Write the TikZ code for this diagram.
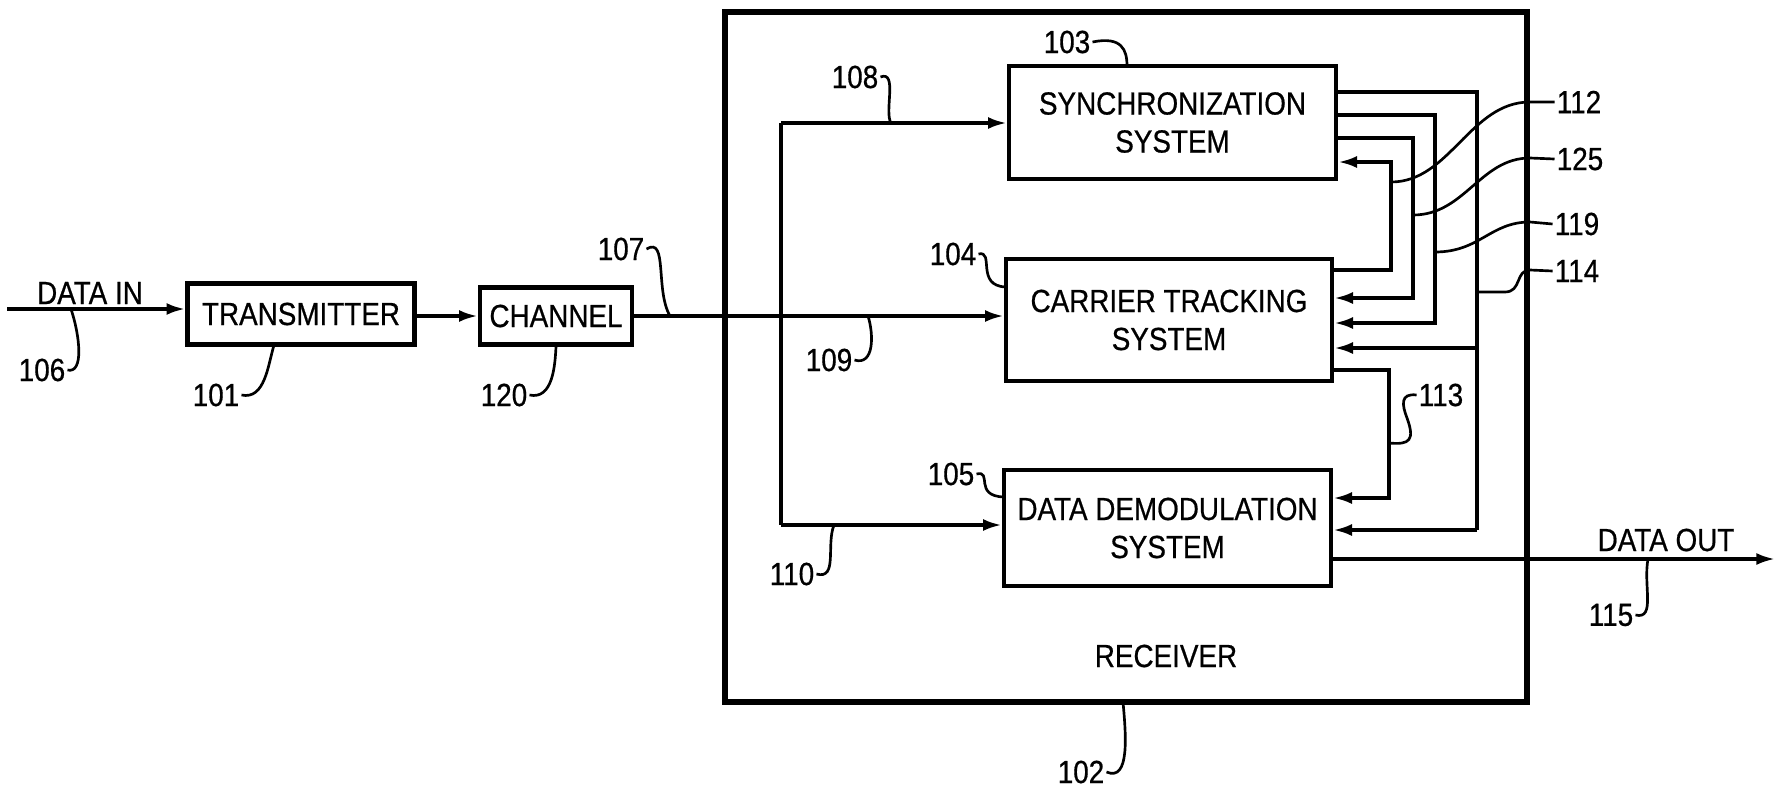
\documentclass[tikz,border=0pt]{standalone}
\usepackage{fontspec}
\setmainfont{Liberation Sans}[FakeStretch=0.87,FakeBold=0.6]
\usetikzlibrary{arrows.meta}
\newcommand{\figfont}{\fontsize{24}{28.5}\selectfont}

\begin{document}
\begin{tikzpicture}[x=0.75pt,y=0.75pt,yscale=-1,xscale=1,
  sysbox/.style={draw, line width=3.5pt, inner sep=0pt, align=center, font=\figfont},
  wire/.style={line width=2.5pt},
  arr/.style={wire, -{Latex[length=14pt,width=9pt]}},
  lead/.style={line width=2pt},
  txt/.style={inner sep=1.5pt, font=\figfont}]
%set diagram left start at 0, and has height of 789
\useasboundingbox (0,0) rectangle (1777,789);

%Shape: Rectangle [receiver]
\draw (1126,357) node [draw, line width=4pt, minimum width=601.5pt, minimum height=517.5pt] (rx) {};
%Shape: Rectangle
\draw (301,314) node [sysbox, minimum width=170.25pt, minimum height=45.75pt] (tx) {TRANSMITTER};
%Shape: Rectangle
\draw (556,316) node [sysbox, minimum width=114pt, minimum height=42.75pt] (ch) {CHANNEL};
%Shape: Rectangle
\draw (1172.5,122.5) node [sysbox, minimum width=245.25pt, minimum height=84.75pt] (sync) {SYNCHRONIZATION\\SYSTEM};
%Shape: Rectangle
\draw (1169,320) node [sysbox, minimum width=244.5pt, minimum height=91.5pt] (carr) {CARRIER TRACKING\\SYSTEM};
%Shape: Rectangle
\draw (1167.5,528) node [sysbox, minimum width=245.25pt, minimum height=87pt] (demod) {DATA DEMODULATION\\SYSTEM};

% Text Node
\draw (90,293) node [txt] (din) {DATA IN};
% Text Node
\draw (1666,540) node [txt] (dout) {DATA OUT};
% Text Node
\draw (1166,656) node [txt] (rxname) {RECEIVER};
% Text Node
\draw (216,395) node [txt] (l101) {101};
\draw (1081,772) node [txt] (l102) {102};
\draw (1067,42) node [txt] (l103) {103};
\draw (953,254) node [txt] (l104) {104};
\draw (951,474) node [txt] (l105) {105};
\draw (42,370) node [txt] (l106) {106};
\draw (621,249) node [txt] (l107) {107};
\draw (855,77) node [txt] (l108) {108};
\draw (829,360) node [txt] (l109) {109};
\draw (792,574) node [txt] (l110) {110};
\draw (1579,102) node [txt] (l112) {112};
\draw (1441,395) node [txt] (l113) {113};
\draw (1577,271) node [txt] (l114) {114};
\draw (1611,615) node [txt] (l115) {115};
\draw (1577,224) node [txt] (l119) {119};
\draw (504,395) node [txt] (l120) {120};
\draw (1580,159) node [txt] (l125) {125};

% corners of the connectors
\coordinate (src) at (7,309);
\coordinate (snk) at (1775,559);
\coordinate (bt) at (781,123);
\coordinate (bb) at (781,525);
\coordinate (a1) at (1477,92);
\coordinate (a2) at (1477,348);
\coordinate (a3) at (1477,530);
\coordinate (b1) at (1435,115);
\coordinate (b2) at (1435,323);
\coordinate (c1) at (1413,138);
\coordinate (c2) at (1413,298);
\coordinate (d1) at (1391,270);
\coordinate (d2) at (1391,162);
\coordinate (e1) at (1389,370);
\coordinate (e2) at (1389,498);

%Straight Lines
\draw [arr] (src) -- (src -| tx.west);
\draw [arr] (tx.east |- ch.west) -- (ch.west);
\draw [arr] (ch.east) -- (ch.east -| carr.west);
\draw [wire] (bt) -- (bb);
\draw [arr] (bt) -- (bt -| sync.west);
\draw [arr] (bb) -- (bb -| demod.west);
\draw [arr] (demod.east |- snk) -- (snk);
%Straight Lines
\draw [wire] (a1 -| sync.east) -- (a1) -- (a3);
\draw [arr] (a2) -- (a2 -| carr.east);
\draw [arr] (a3) -- (a3 -| demod.east);
\draw [arr] (b1 -| sync.east) -- (b1) -- (b2) -- (b2 -| carr.east);
\draw [arr] (c1 -| sync.east) -- (c1) -- (c2) -- (c2 -| carr.east);
\draw [arr] (d1 -| carr.east) -- (d1) -- (d2) -- (d2 -| sync.east);
\draw [arr] (e1 -| carr.east) -- (e1) -- (e2) -- (e2 -| demod.east);

% leader ends
\coordinate (p101) at (274,345);
\coordinate (p102) at (1123,702);
\coordinate (p103) at (1127,66);
\coordinate (p104) at (1006,287);
\coordinate (p105) at (1004,497);
\coordinate (p106) at (71,309);
\coordinate (p107) at (670,316);
\coordinate (p108) at (891,123);
\coordinate (p109) at (868,316);
\coordinate (p110) at (834,525);
\coordinate (p112) at (1391,182);
\coordinate (p113) at (1389,443);
\coordinate (p114) at (1477,292);
\coordinate (p115) at (1648,559);
\coordinate (p119) at (1435,252);
\coordinate (p125) at (1413,215);

%Curve Lines
\draw [lead] (l101.east) .. controls (265,400) and (268,365) .. (p101);
\draw [lead] (l102.east) .. controls (1130,782) and (1126,735) .. (p102);
\draw [lead] (l103.east) .. controls (1122,36) and (1127,50) .. (p103);
\draw [lead] (l104.east) .. controls (995,250) and (975,286) .. (p104);
\draw [lead] (l105.east) .. controls (993,470) and (973,496) .. (p105);
\draw [lead] (l106.east) .. controls (84,374) and (80,336) .. (p106);
\draw [lead] (l107.east) .. controls (668,236) and (655,290) .. (p107);
\draw [lead] (l108.east) .. controls (898,70) and (884,112) .. (p108);
\draw [lead] (l109.east) .. controls (874,366) and (874,335) .. (p109);
\draw [lead] (l110.east) .. controls (838,580) and (826,545) .. (p110);
\draw [lead] (l115.east) .. controls (1656,620) and (1643,585) .. (p115);
\draw [lead] (l120.east) .. controls (553,400) and (555,365) .. (ch.south);
\draw [lead] (l112.west) -- (1530,102) .. controls (1470,102) and (1450,182) .. (p112);
\draw [lead] (l125.west) -- (1530,158) .. controls (1480,158) and (1465,215) .. (p125);
\draw [lead] (l119.west) -- (1530,222) .. controls (1490,222) and (1480,252) .. (p119);
\draw [lead] (l114.west) -- (1530,270) .. controls (1515,270) and (1522,292) .. (1505,292) -- (p114);
\draw [lead] (l113.west) .. controls (1400,393) and (1402,405) .. (1407,418) .. controls (1415,440) and (1410,445) .. (p113);

\end{tikzpicture}
\end{document}
